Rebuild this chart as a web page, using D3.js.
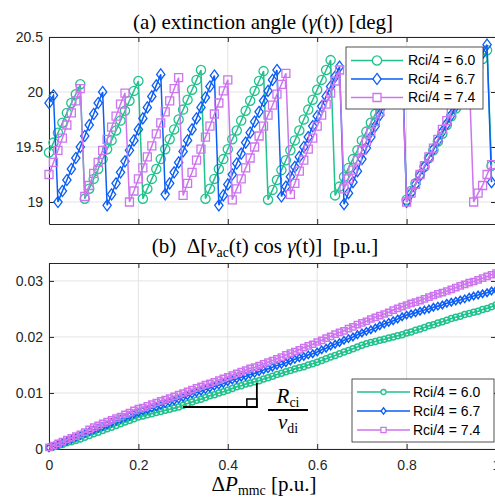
<!DOCTYPE html>
<html>
<head>
<meta charset="utf-8">
<script src="https://cdn.jsdelivr.net/npm/d3@7"></script>
<style>
body { margin: 0; background: #fff; }
</style>
</head>
<body>
<script>
// --- data ---
var seriesLabels = ["Rci/4 = 6.0", "Rci/4 = 6.7", "Rci/4 = 7.4"];
var seriesColors = ["#21c28e", "#0b5ef5", "#cd74ee"];
var seriesShapes = ["circle", "diamond", "square"];

// (a) extinction angle samples, one every timeStep
var timeStep = 0.01;
var gamma60 = [19.45,19.54,19.63,19.72,19.81,19.90,19.98,20.07,
  19.03,19.12,19.21,19.30,19.39,19.48,19.56,19.65,19.74,19.83,19.92,20.01,20.10,
  19.03,19.12,19.21,19.30,19.39,19.48,19.57,19.66,19.75,19.84,19.93,20.02,20.11,20.20,
  19.03,19.12,19.21,19.30,19.39,19.48,19.57,19.65,19.74,19.83,19.92,20.01,20.10,20.19,
  19.02,19.11,19.20,19.29,19.38,19.47,19.56,19.65,19.75,19.84,19.93,20.02,20.11,20.20,20.29,
  19.06,19.14,19.23,19.31,19.39,19.47,19.56,19.64,19.72,19.80,19.89,19.97,20.05,20.13,20.22,20.30,
  19.02,19.10,19.17,19.25,19.32,19.40,19.47,19.55,19.62,19.70,19.78,19.85,19.93,20.00,20.08,20.15,20.23,20.30,20.38,
  19.33];
var gamma67 = [19.90,19.97,
  19.00,19.10,19.20,19.30,19.40,19.50,19.60,19.70,19.80,19.90,20.00,
  18.97,19.07,19.17,19.27,19.37,19.47,19.56,19.66,19.76,19.86,19.96,20.06,20.16,
  19.07,19.17,19.27,19.36,19.46,19.56,19.66,19.76,19.86,19.95,20.05,20.15,
  18.97,19.06,19.16,19.25,19.35,19.44,19.54,19.63,19.73,19.82,19.92,20.01,20.11,20.20,
  19.05,19.14,19.23,19.32,19.41,19.50,19.59,19.69,19.78,19.87,19.96,20.05,20.14,20.23,
  18.98,19.08,19.18,19.28,19.39,19.49,19.59,19.69,19.79,19.89,19.99,20.10,20.20,20.30,
  19.00,19.08,19.16,19.24,19.32,19.40,19.48,19.56,19.64,19.71,19.79,19.87,19.95,20.03,20.11,20.19,20.27,20.35,20.43,
  19.18];
var gamma74 = [19.25,19.36,19.47,19.58,19.70,19.81,19.92,20.03,
  19.05,19.15,19.26,19.36,19.47,19.57,19.68,19.78,19.89,19.99,
  19.00,19.10,19.21,19.31,19.41,19.51,19.62,19.72,19.82,19.92,20.03,20.13,
  19.06,19.17,19.27,19.38,19.48,19.59,19.69,19.80,19.90,20.01,20.11,
  19.02,19.12,19.21,19.31,19.40,19.50,19.60,19.69,19.79,19.88,19.98,20.07,20.17,
  19.07,19.17,19.28,19.38,19.48,19.58,19.69,19.79,19.89,19.99,20.10,20.20,
  19.12,19.21,19.29,19.38,19.47,19.55,19.64,19.73,19.82,19.90,19.99,20.08,20.16,20.25,
  19.00,19.08,19.16,19.25,19.33,19.41,19.49,19.57,19.66,19.74,19.82,19.90,19.99,20.07,20.15,
  19.00,19.08,19.15,19.25,19.34];

// (b) delta of vac*cos(gamma) vs delta Pmmc, one every pStep
var pStep = 0.01;
var dv60 = [0.0003,0.0004,0.0006,0.0008,0.0011,0.0013,0.0015,0.0018,0.0021,0.0024,0.0027,
  0.0030,0.0033,0.0036,0.0039,0.0042,0.0045,0.0048,0.0051,0.0054,0.0057,
  0.0059,0.0061,0.0063,0.0065,0.0067,0.0069,0.0071,0.0073,0.0075,0.0078,
  0.0081,0.0084,0.0087,0.0089,0.0092,0.0095,0.0097,0.0100,0.0102,0.0105,
  0.0108,0.0111,0.0113,0.0116,0.0118,0.0120,0.0122,0.0125,0.0127,0.0130,
  0.0133,0.0135,0.0138,0.0140,0.0143,0.0145,0.0147,0.0150,0.0152,0.0155,
  0.0158,0.0161,0.0164,0.0167,0.0170,0.0173,0.0176,0.0179,0.0182,0.0185,
  0.0188,0.0190,0.0192,0.0194,0.0196,0.0198,0.0200,0.0202,0.0204,0.0207,
  0.0209,0.0212,0.0214,0.0217,0.0220,0.0222,0.0225,0.0227,0.0230,0.0233,
  0.0235,0.0237,0.0240,0.0242,0.0244,0.0246,0.0249,0.0251,0.0254,0.0257];
var dv67 = [0.0002,0.0005,0.0008,0.0011,0.0014,0.0017,0.0020,0.0024,0.0027,0.0031,0.0034,
  0.0037,0.0040,0.0043,0.0047,0.0050,0.0053,0.0056,0.0059,0.0062,0.0065,
  0.0068,0.0070,0.0073,0.0075,0.0078,0.0081,0.0084,0.0086,0.0089,0.0092,
  0.0095,0.0098,0.0101,0.0103,0.0106,0.0109,0.0112,0.0114,0.0117,0.0120,
  0.0123,0.0125,0.0128,0.0130,0.0133,0.0135,0.0138,0.0141,0.0143,0.0146,
  0.0149,0.0151,0.0154,0.0157,0.0160,0.0163,0.0165,0.0168,0.0170,0.0173,
  0.0177,0.0180,0.0184,0.0187,0.0190,0.0194,0.0197,0.0200,0.0204,0.0207,
  0.0210,0.0213,0.0216,0.0220,0.0223,0.0226,0.0229,0.0232,0.0236,0.0239,
  0.0241,0.0243,0.0246,0.0248,0.0250,0.0253,0.0255,0.0257,0.0260,0.0262,
  0.0264,0.0266,0.0268,0.0271,0.0273,0.0275,0.0277,0.0279,0.0282,0.0284];
var dv74 = [0.0003,0.0006,0.0010,0.0013,0.0017,0.0020,0.0023,0.0026,0.0030,0.0035,0.0039,
  0.0042,0.0046,0.0049,0.0052,0.0055,0.0058,0.0062,0.0065,0.0069,0.0072,
  0.0074,0.0077,0.0080,0.0083,0.0086,0.0088,0.0091,0.0094,0.0097,0.0100,
  0.0103,0.0106,0.0109,0.0112,0.0115,0.0117,0.0120,0.0123,0.0126,0.0129,
  0.0132,0.0135,0.0138,0.0141,0.0144,0.0146,0.0149,0.0152,0.0155,0.0158,
  0.0161,0.0164,0.0168,0.0171,0.0174,0.0177,0.0181,0.0184,0.0187,0.0191,
  0.0194,0.0198,0.0201,0.0205,0.0208,0.0211,0.0215,0.0218,0.0222,0.0225,
  0.0228,0.0232,0.0235,0.0238,0.0241,0.0244,0.0248,0.0251,0.0254,0.0257,
  0.0260,0.0262,0.0265,0.0268,0.0271,0.0274,0.0277,0.0279,0.0282,0.0285,
  0.0288,0.0291,0.0294,0.0297,0.0299,0.0302,0.0305,0.0308,0.0311,0.0314];

var xTicks = [0, 0.2, 0.4, 0.6, 0.8, 1];
var xTickLabels = ["0", "0.2", "0.4", "0.6", "0.8", "1"];
var yTicksA = [19, 19.5, 20, 20.5];
var yTickLabelsA = ["19", "19.5", "20", "20.5"];
var yTicksB = [0, 0.01, 0.02, 0.03];
var yTickLabelsB = ["0", "0.01", "0.02", "0.03"];

// slope annotation (b): corner and top of the triangle, in data units
var slopeRun = [0.30, 0.465];
var slopeRise = [0.0075, 0.0118];

// --- layout ---
var sans = "'Liberation Sans', Arial, sans-serif";
var serif = "'Liberation Serif', 'Times New Roman', serif";
var axisColor = "#262626";

var svg = d3.select("body").append("svg").attr("width", 495).attr("height", 498);

var x = d3.scaleLinear().domain([0, 1]).range([49, 496]);
var yA = d3.scaleLinear().domain([18.8, 20.5]).range([224, 37]);
var yB = d3.scaleLinear().domain([0, 0.0332]).range([449, 263]);

function drawFrame(y, yTicks, yLabels, showXLabels) {
    var top = y.range()[1], bottom = y.range()[0];
    var left = x.range()[0], right = x.range()[1];
    var g = svg.append("g");

    // grid
    g.selectAll(null).data(xTicks).enter().append("line")
        .attr("x1", function (d) { return x(d) }).attr("x2", function (d) { return x(d) })
        .attr("y1", top).attr("y2", bottom)
        .attr("stroke", "#e3e3e3").attr("stroke-width", 1);
    g.selectAll(null).data(yTicks).enter().append("line")
        .attr("x1", left).attr("x2", right)
        .attr("y1", function (d) { return y(d) }).attr("y2", function (d) { return y(d) })
        .attr("stroke", "#e3e3e3").attr("stroke-width", 1);

    // axes with inward ticks on all four sides
    var axLeft = g.append("g").attr("transform", "translate(" + left + ",0)")
        .call(d3.axisLeft(y).tickValues(yTicks)
            .tickFormat(function (d, i) { return yLabels[i] })
            .tickSizeInner(-5).tickSizeOuter(0).tickPadding(6));
    var axRight = g.append("g").attr("transform", "translate(" + right + ",0)")
        .call(d3.axisRight(y).tickValues(yTicks).tickFormat("")
            .tickSizeInner(-5).tickSizeOuter(0));
    var axBottom = g.append("g").attr("transform", "translate(0," + bottom + ")")
        .call(d3.axisBottom(x).tickValues(xTicks)
            .tickFormat(function (d, i) { return showXLabels ? xTickLabels[i] : "" })
            .tickSizeInner(-5).tickSizeOuter(0).tickPadding(11));
    var axTop = g.append("g").attr("transform", "translate(0," + top + ")")
        .call(d3.axisTop(x).tickValues(xTicks).tickFormat("")
            .tickSizeInner(-5).tickSizeOuter(0));

    [axLeft, axRight, axBottom, axTop].forEach(function (a) {
        a.attr("color", axisColor).attr("font-size", 14).attr("font-family", sans);
        a.select(".domain").attr("stroke-width", 1);
    });
    return g;
}

function markerPath(shape, s) {
    if (shape == "diamond") {
        var h = s * 1.2, w = s * 0.9;
        return "M0," + (-h) + "L" + w + ",0L0," + h + "L" + (-w) + ",0Z";
    }
    if (shape == "square") {
        return "M" + (-s) + "," + (-s) + "H" + s + "V" + s + "H" + (-s) + "Z";
    }
    return "M" + (-s) + ",0A" + s + "," + s + " 0 1,1 " + s + ",0A" + s + "," + s + " 0 1,1 " + (-s) + ",0Z";
}

function drawSeries(values, step, y, k, sizes, lineW, markW) {
    var pts = values.map(function (v, i) { return [x(i * step), y(v)] });
    var g = svg.append("g");
    g.append("path").datum(pts)
        .attr("d", d3.line())
        .attr("fill", "none").attr("stroke", seriesColors[k]).attr("stroke-width", lineW);
    g.selectAll(null).data(pts).enter().append("path")
        .attr("transform", function (d) { return "translate(" + d[0] + "," + d[1] + ")" })
        .attr("d", markerPath(seriesShapes[k], sizes[k]))
        .attr("fill", "none").attr("stroke", seriesColors[k]).attr("stroke-width", markW);
}

function drawLegend(x0, y0, w, h, rows, lineX, textX, sizes, lineW) {
    var g = svg.append("g");
    g.append("rect").attr("x", x0).attr("y", y0).attr("width", w).attr("height", h)
        .attr("fill", "#fff").attr("stroke", axisColor).attr("stroke-width", 0.8);
    var item = g.selectAll(null).data(seriesLabels).enter().append("g")
        .attr("transform", function (d, i) { return "translate(0," + rows[i] + ")" });
    item.append("line").attr("x1", lineX[0]).attr("x2", lineX[1])
        .attr("stroke", function (d, i) { return seriesColors[i] }).attr("stroke-width", lineW);
    item.append("path")
        .attr("transform", "translate(" + (lineX[0] + lineX[1]) / 2 + ",0)")
        .attr("d", function (d, i) { return markerPath(seriesShapes[i], sizes[i]) })
        .attr("fill", "#fff").attr("stroke", function (d, i) { return seriesColors[i] }).attr("stroke-width", 1.3);
    item.append("text").attr("x", textX).attr("dy", "0.35em")
        .attr("font-family", sans).attr("font-size", 14).attr("fill", "#000")
        .text(function (d) { return d });
}

// text with italic parts and subscripts
function richText(xPos, yPos, size, parts) {
    var t = svg.append("text").attr("x", xPos).attr("y", yPos)
        .attr("font-family", serif).attr("font-size", size).attr("fill", "#000")
        .attr("text-anchor", "middle").style("white-space", "pre");
    var shifted = false;
    parts.forEach(function (p) {
        var ts = t.append("tspan").text(p.t);
        if (p.it) ts.attr("font-style", "italic");
        if (p.sub) {
            ts.attr("font-size", size * 0.66);
            if (!shifted) ts.attr("dy", size * 0.2);
            shifted = true;
        } else if (shifted) {
            ts.attr("dy", -size * 0.2);
            shifted = false;
        }
    });
    return t;
}

// --- (a) extinction angle ---
drawFrame(yA, yTicksA, yTickLabelsA, false);
[gamma60, gamma67, gamma74].forEach(function (s, k) {
    drawSeries(s, timeStep, yA, k, [4.6, 4.6, 4.0], 1.5, 1.3);
});
richText(263, 29, 21, [
    { t: "(a) extinction angle (" }, { t: "γ", it: true }, { t: "(t)) [deg]" }]);
drawLegend(346, 47, 137, 62, [60.5, 79, 97.5], [351, 403], 408, [4.6, 4.6, 4.0], 1.5);

// --- (b) vac cos gamma vs Pmmc ---
drawFrame(yB, yTicksB, yTickLabelsB, true);
[dv60, dv67, dv74].forEach(function (s, k) {
    drawSeries(s, pStep, yB, k, [3.0, 3.1, 3.1], 1.6, 1.5);
});
richText(265, 253, 21, [
    { t: "(b)  Δ[" }, { t: "v", it: true }, { t: "ac", sub: true }, { t: "(t) cos " },
    { t: "γ", it: true }, { t: "(t)]  [p.u.]" }]);
richText(264, 491, 21, [
    { t: "Δ" }, { t: "P", it: true }, { t: "mmc", sub: true }, { t: " [p.u.]" }]);

// slope triangle and fraction
var tri = svg.append("g").attr("stroke", "#000").attr("fill", "none").attr("stroke-width", 1.8);
tri.append("path").attr("d", d3.line()([
    [x(slopeRun[0]), yB(slopeRise[0])],
    [x(slopeRun[1]), yB(slopeRise[0])],
    [x(slopeRun[1]), yB(slopeRise[1])]]));
tri.append("rect").attr("x", x(slopeRun[1]) - 10).attr("y", yB(slopeRise[0]) - 8)
    .attr("width", 10).attr("height", 8).attr("stroke-width", 1.5);
svg.append("line").attr("x1", 268).attr("x2", 308).attr("y1", 410).attr("y2", 410)
    .attr("stroke", "#000").attr("stroke-width", 2);
richText(288, 403, 21, [{ t: "R", it: true }, { t: "ci", sub: true }]);
richText(288, 429, 21, [{ t: "v", it: true }, { t: "di", sub: true }]);

drawLegend(352, 379, 142, 63, [392, 411, 430], [357, 410], 413, [2.5, 2.7, 2.6], 1.5);
</script>
</body>
</html>
